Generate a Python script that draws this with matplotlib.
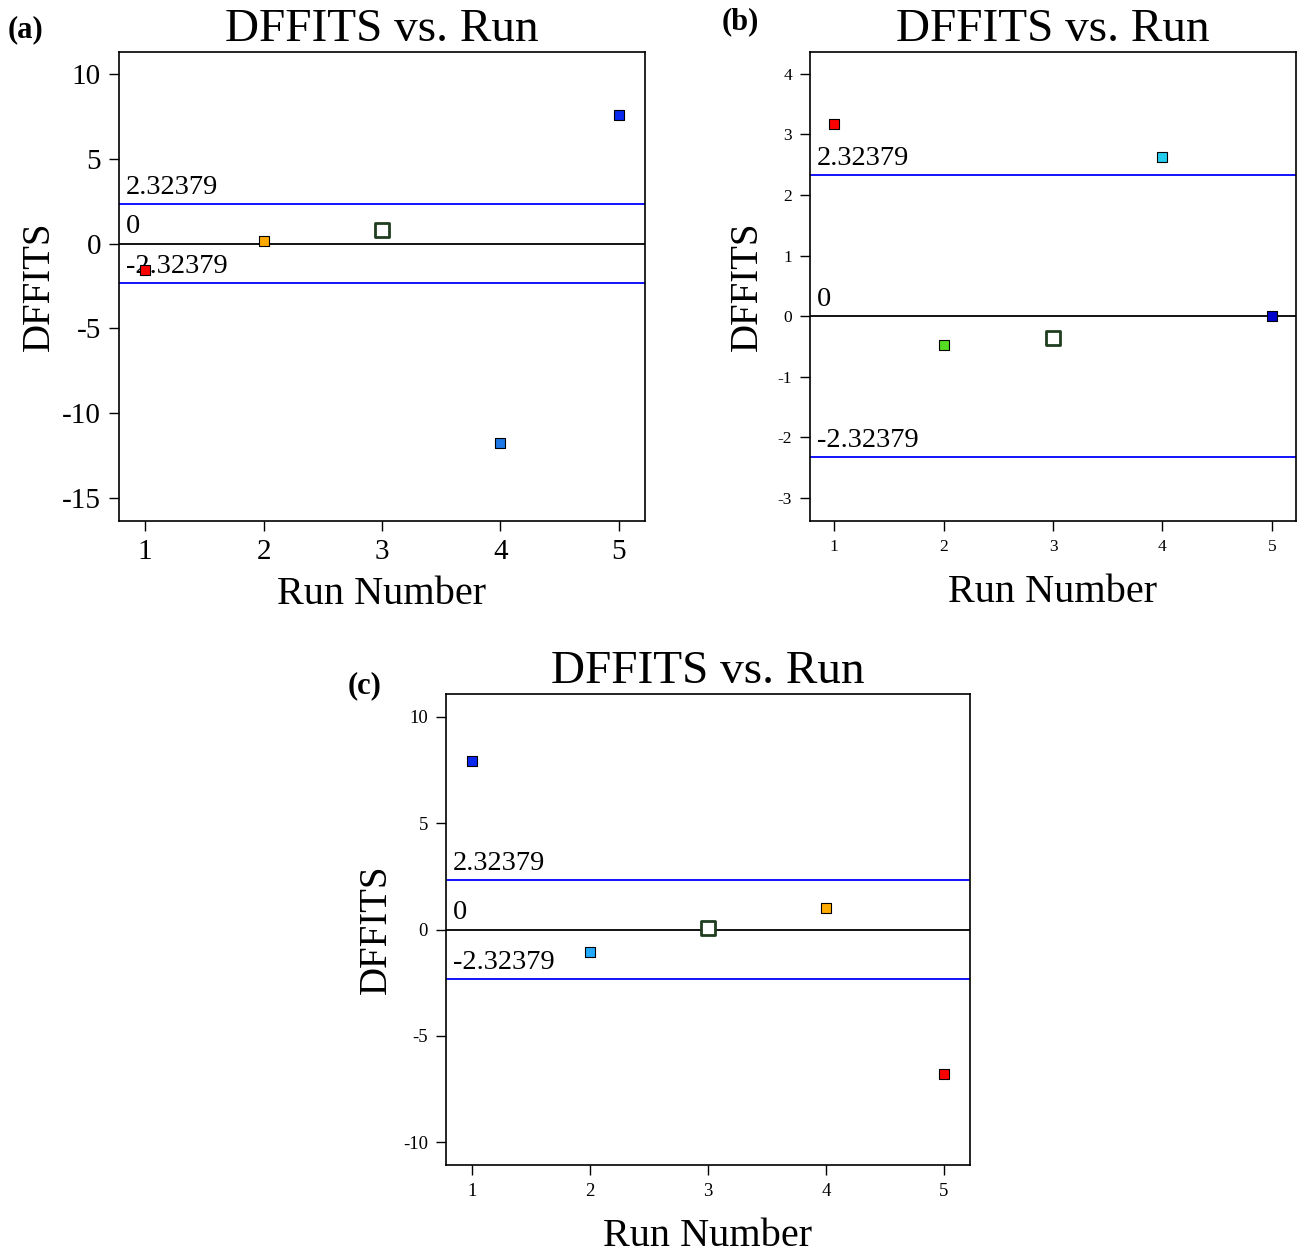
import matplotlib.pyplot as plt
from matplotlib import transforms

plt.rcParams['font.family'] = ['Liberation Serif', 'DejaVu Serif']
plt.rcParams['axes.unicode_minus'] = False

# data
runs = [1, 2, 3, 4, 5]
dffits_a = [-1.53, 0.18, 0.82, -11.76, 7.59]
dffits_b = [3.17, -0.48, -0.36, 2.62, 0.0]
dffits_c = [7.95, -1.04, 0.05, 0.99, -6.82]
colors_a = ['#ff0000', '#ffaa00', '#ffffff', '#1e78e6', '#0a28f0']
colors_b = ['#ff0000', '#55dd22', '#ffffff', '#22ccee', '#0000cc']
colors_c = ['#0a28f0', '#22aaff', '#ffffff', '#ffaa00', '#ff0000']
limit = 2.32379

W, H = 1306, 1253
fig = plt.figure(figsize=(W / 100, H / 100), dpi=100)


def px_axes(left, top, right, bottom):
    return fig.add_axes([left / W, (H - bottom) / H, (right - left) / W, (bottom - top) / H])


def panel(ax, vals, cols, ylim, yticks, tick_fs, tag, tag_xy, xpad, ypad):
    ax.axhline(0, color='black', lw=1.3, zorder=1)
    ax.axhline(limit, color='#0000ff', lw=1.3, zorder=1)
    ax.axhline(-limit, color='#0000ff', lw=1.3, zorder=1)
    trans = transforms.blended_transform_factory(ax.transAxes, ax.transData)
    for yv, txt in [(limit, '2.32379'), (0, '0'), (-limit, '-2.32379')]:
        ax.annotate(txt, xy=(0, yv), xycoords=trans, xytext=(5, 3),
                    textcoords='offset points', fontsize=20.5, va='bottom', ha='left')
    for x, y, c in zip(runs, vals, cols):
        if c == '#ffffff':
            ax.scatter(x, y, marker='s', s=90, facecolor='white',
                       edgecolor='#1f3d1f', linewidths=2, zorder=3)
        else:
            ax.scatter(x, y, marker='s', s=55, facecolor=c,
                       edgecolor='black', linewidths=0.8, zorder=3)
    ax.set_xlim(0.78, 5.22)
    ax.set_ylim(*ylim)
    ax.set_xticks(runs)
    ax.set_yticks(yticks)
    ax.tick_params(direction='out', length=7, width=1, labelsize=tick_fs, pad=6)
    for s in ax.spines.values():
        s.set_linewidth(1.2)
    ax.set_title('DFFITS vs. Run', fontsize=34, pad=8)
    ax.set_xlabel('Run Number', fontsize=29, labelpad=xpad)
    ax.set_ylabel('DFFITS', fontsize=28, labelpad=ypad)
    fig.text(tag_xy[0] / W, 1 - tag_xy[1] / H, tag, fontsize=22,
             fontweight='bold', ha='left', va='center')


ax_a = px_axes(119, 52, 645, 521)
panel(ax_a, dffits_a, colors_a, (-16.35, 11.29), [-15, -10, -5, 0, 5, 10], 21,
      '(a)', (8, 30), 8, 3)

ax_b = px_axes(810, 52, 1296, 521)
panel(ax_b, dffits_b, colors_b, (-3.38, 4.36), [-3, -2, -1, 0, 1, 2, 3, 4], 12.5,
      '(b)', (722, 22), 14, 8)

ax_c = px_axes(446, 694, 970, 1165)
panel(ax_c, dffits_c, colors_c, (-11.08, 11.08), [-10, -5, 0, 5, 10], 13.5,
      '(c)', (348, 686), 13, 6)

fig.savefig('out.png', dpi=100)
